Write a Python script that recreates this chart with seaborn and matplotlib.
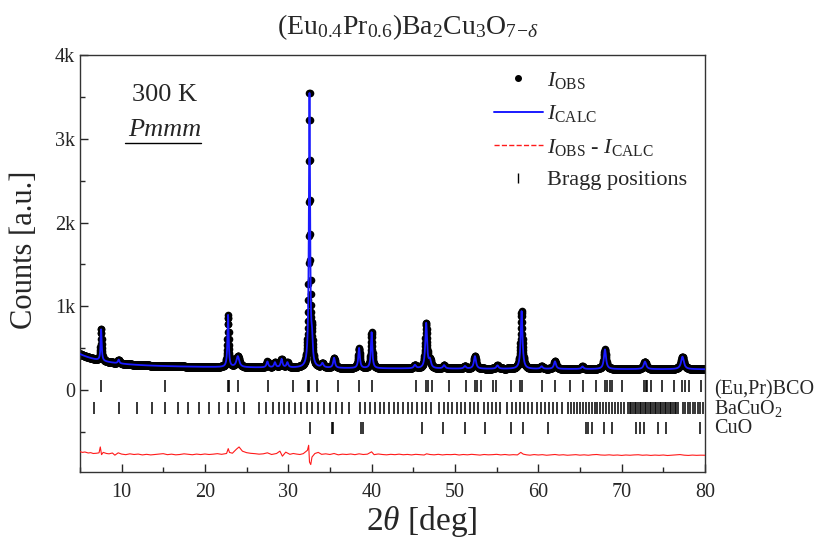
import numpy as np
import pandas as pd
import seaborn as sns
import matplotlib.pyplot as plt
from matplotlib.lines import Line2D
from matplotlib.ticker import MultipleLocator, FuncFormatter

# Peaks: position [deg], height above background [counts], FWHM [deg]
peak_pos = [7.55, 9.65, 22.78, 23.95, 27.5, 28.4, 29.2, 29.9, 32.55, 32.85, 34.1, 35.5,
            38.5, 40.0, 45.2, 46.55, 47.0, 48.7, 51.2, 52.4, 55.1, 58.0, 60.4, 62.0,
            65.3, 68.0, 72.8, 77.3]
peak_height = [380, 45, 620, 130, 70, 60, 100, 60, 3300, 250, 50, 120,
               240, 430, 40, 540, 90, 40, 30, 150, 40, 690, 30, 90,
               30, 235, 90, 150]
peak_fwhm = [0.15, 0.2, 0.17, 0.4, 0.25, 0.25, 0.25, 0.25, 0.17, 0.2, 0.3, 0.25,
             0.22, 0.2, 0.3, 0.25, 0.3, 0.3, 0.3, 0.3, 0.3, 0.25, 0.3, 0.3,
             0.3, 0.3, 0.35, 0.4]

# background level
bg_flat = 245
bg_fast, bg_fast_decay = 130, 3.0
bg_slow, bg_slow_decay = 55, 25.0

# Bragg positions
bragg_bco = [7.55, 15.23, 22.75, 22.95, 24.03, 27.55, 30.63, 32.4, 32.55, 33.43, 36.0,
             38.5, 40.03, 45.3, 46.5, 46.8, 47.2, 49.3, 51.3, 52.4, 52.7, 53.1, 54.6,
             54.9, 56.67, 57.75, 57.99, 60.39, 61.99, 63.75, 65.35, 66.95, 67.99, 68.3,
             68.55, 68.87, 70.07, 72.67, 72.9, 73.1, 73.47, 74.87, 76.27, 77.27, 77.6,
             78.07, 79.47]
bragg_bacuo2 = [6.75, 9.67, 11.83, 13.63, 15.27, 16.75, 18.03, 19.35, 20.55, 21.67,
                22.75, 23.75, 24.75, 26.55, 27.35, 28.15, 28.87, 29.55, 30.11, 30.79,
                31.51, 32.23, 32.91, 33.63, 34.31, 35.03, 35.79, 36.51, 37.31, 38.63,
                39.23, 39.83, 40.39, 40.95, 41.51, 42.07, 42.63, 43.19, 43.75, 44.31,
                44.87, 45.43, 45.99, 46.55, 47.11, 48.11, 48.63, 49.15, 49.67, 50.19,
                50.71, 51.23, 51.75, 52.23, 52.71, 53.43, 53.91, 54.39, 54.91, 55.4,
                56.3, 56.8, 57.3, 57.8, 58.3, 58.8, 59.3, 59.8, 60.3, 60.8, 61.3, 61.8,
                62.3, 62.8, 63.6, 63.95, 64.3, 64.65, 65.0, 65.35, 65.7, 66.05, 66.4,
                66.75, 67.1, 67.45, 67.8, 68.15, 68.5, 68.85, 69.2, 69.55, 69.9, 70.25,
                70.75, 70.95, 71.15, 71.35, 71.55, 71.75, 71.95, 72.15, 72.35, 72.55,
                72.75, 72.95, 73.15, 73.35, 73.55, 73.75, 73.95, 74.15, 74.35, 74.55,
                74.75, 74.95, 75.15, 75.35, 75.55, 75.75, 75.95, 76.15, 76.35, 76.55,
                76.8, 77.35, 77.65, 77.95, 78.25, 78.55, 78.85, 79.15, 79.45, 79.75]
bragg_cuo = [32.6, 35.2, 35.4, 38.7, 38.95, 46.1, 48.6, 51.2, 53.6, 56.67, 58.15, 61.19,
             65.67, 66.0, 66.5, 67.87, 68.87, 71.67, 72.15, 72.67, 74.39, 75.35, 79.35]
bragg_rows = [50, -215, -455]
phase_names = ["(Eu,Pr)BCO", "BaCuO$_2$", "CuO"]

# difference curve I_obs - I_calc (already offset), pairs of (2theta, counts)
diff_points = [
    (5.0, -735), (5.3, -745), (5.6, -740), (6.0, -752), (6.3, -748), (6.6, -758),
    (7.0, -755), (7.3, -750), (7.45, -680), (7.6, -772), (7.8, -745), (8.2, -758),
    (8.5, -762), (8.9, -752), (9.2, -778), (9.6, -750), (10.0, -765), (10.5, -772),
    (11.0, -762), (11.5, -770), (12.0, -765), (12.5, -775), (13.0, -768), (13.5, -775),
    (14.0, -770), (14.5, -764), (15.0, -760), (15.5, -772), (16.0, -766), (16.5, -774),
    (17.0, -770), (17.5, -762), (18.0, -768), (18.5, -773), (19.0, -765), (19.5, -771),
    (20.0, -764), (20.5, -770), (21.0, -766), (21.5, -760), (22.0, -768), (22.6, -758),
    (22.8, -700), (22.95, -745), (23.3, -755), (23.8, -705), (24.1, -680), (24.5, -730),
    (25.0, -748), (25.5, -756), (26.0, -760), (26.5, -766), (27.0, -762), (27.5, -750),
    (28.0, -770), (28.6, -758), (29.0, -730), (29.3, -790), (29.7, -742), (30.2, -768),
    (30.6, -758), (31.0, -765), (31.4, -770), (31.8, -760), (32.3, -720), (32.45, -660),
    (32.55, -860), (32.7, -890), (32.85, -800), (33.2, -758), (33.6, -745), (34.0, -768),
    (34.5, -762), (35.0, -770), (35.5, -758), (36.0, -774), (36.5, -766), (37.0, -770),
    (37.5, -764), (38.0, -772), (38.5, -762), (39.0, -770), (39.5, -766), (40.0, -738),
    (40.3, -772), (40.8, -764), (41.3, -770), (41.8, -774), (42.3, -768), (42.8, -772),
    (43.3, -766), (43.8, -773), (44.3, -769), (44.8, -775), (45.3, -768), (45.8, -772),
    (46.3, -776), (46.6, -762), (47.0, -770), (47.5, -774), (48.0, -768), (48.5, -775),
    (49.0, -770), (49.5, -772), (50.0, -768), (50.5, -776), (51.0, -770), (51.5, -774),
    (52.0, -768), (52.5, -772), (53.0, -777), (53.5, -770), (54.0, -774), (54.5, -772),
    (55.0, -768), (55.5, -775), (56.0, -770), (56.5, -776), (57.0, -772), (57.5, -775),
    (57.9, -745), (58.2, -766), (58.6, -774), (59.0, -778), (59.5, -771), (60.0, -776),
    (60.5, -772), (61.0, -779), (61.5, -774), (62.0, -770), (62.5, -777), (63.0, -773),
    (63.5, -779), (64.0, -775), (64.5, -772), (65.0, -778), (65.5, -774), (66.0, -779),
    (66.5, -773), (67.0, -770), (67.5, -776), (68.0, -778), (68.5, -774), (69.0, -779),
    (69.5, -776), (70.0, -781), (70.5, -776), (71.0, -779), (71.5, -775), (72.0, -773),
    (72.5, -779), (73.0, -776), (73.5, -781), (74.0, -777), (74.5, -780), (75.0, -776),
    (75.5, -782), (76.0, -778), (76.5, -774), (77.0, -771), (77.5, -778), (78.0, -781),
    (78.5, -777), (79.0, -780), (79.5, -778), (80.0, -779),
]

# calculated profile on the measurement grid
tt = np.arange(5.0, 80.0001, 0.02)
calc = (bg_flat + bg_fast * np.exp(-(tt - 5) / bg_fast_decay)
        + bg_slow * np.exp(-(tt - 5) / bg_slow_decay))
for p, h, w in zip(peak_pos, peak_height, peak_fwhm):
    calc = calc + h / (1 + ((tt - p) / (w / 2)) ** 2)
obs = calc
df = pd.DataFrame({"tt": tt, "obs": obs, "calc": calc})
df_diff = pd.DataFrame(diff_points, columns=["tt", "diff"])

sns.set_style("ticks")
plt.rcParams["font.family"] = ["Liberation Serif", "DejaVu Serif"]
plt.rcParams["mathtext.fontset"] = "custom"
plt.rcParams["mathtext.rm"] = "Liberation Serif"
plt.rcParams["mathtext.it"] = "Liberation Serif:italic"
plt.rcParams["mathtext.bf"] = "Liberation Serif:bold"

fig = plt.figure(figsize=(8.15, 5.42), dpi=100)
ax = fig.add_axes([0.098, 0.129, 0.767, 0.7695])

ax.plot(df["tt"], df["obs"], "o", color="black", ms=5.5, mew=0, zorder=2)
sns.lineplot(data=df, x="tt", y="calc", color="#1a1aff", lw=1.3, ax=ax, zorder=3)
sns.lineplot(data=df_diff, x="tt", y="diff", color="#ff1a1a", lw=0.8, ax=ax, zorder=3)

for pos, row in zip([bragg_bco, bragg_bacuo2, bragg_cuo], bragg_rows):
    ax.plot(pos, [row] * len(pos), "|", color="black", ms=9, mew=1.1, zorder=2)

trans = ax.get_yaxis_transform()
for name, row in zip(phase_names, [2, -225, -460]):
    ax.text(1.015, row, name, transform=trans, fontsize=14.5, va="center", ha="left")

ax.set_xlim(5, 80)
ax.set_ylim(-980, 4000)
ax.xaxis.set_major_locator(MultipleLocator(10))
ax.xaxis.set_minor_locator(MultipleLocator(5))
ax.yaxis.set_major_locator(MultipleLocator(1000))
ax.yaxis.set_minor_locator(MultipleLocator(500))
ax.yaxis.set_major_formatter(FuncFormatter(lambda v, p: "0" if v == 0 else f"{int(v / 1000)}k"))
ax.tick_params(which="both", direction="in", labelsize=14.5, width=1.0)
ax.tick_params(which="major", length=6)
ax.tick_params(which="minor", length=3.5)
ax.tick_params(axis="x", pad=8)
for s in ax.spines.values():
    s.set_linewidth(1.0)
    s.set_color("#333333")

ax.set_xlabel(r"2$\theta$ [deg]", fontsize=24)
ax.xaxis.set_label_coords(0.546, -0.076)
ax.set_ylabel("Counts [a.u.]", fontsize=22)
ax.yaxis.set_label_coords(-0.066, 0.532)
ax.set_title(r"(Eu$_{0.4}$Pr$_{0.6}$)Ba$_2$Cu$_3$O$_{7\!-\!\delta}$", fontsize=20, pad=15,
             x=0.525)

ax.text(0.136, 0.905, "300 K", transform=ax.transAxes, fontsize=19, ha="center", va="center")
ax.text(0.136, 0.82, "Pmmm", transform=ax.transAxes, fontsize=19, ha="center",
        va="center", style="italic")
ax.plot([0.072, 0.194], [0.79, 0.79], transform=ax.transAxes, color="black", lw=1.0)

handles = [
    Line2D([], [], marker="o", color="black", ls="none", ms=4),
    Line2D([], [], color="#1a1aff", lw=1.4),
    Line2D([], [], color="#ff1a1a", lw=1.0, ls="--"),
    Line2D([], [], marker="|", color="black", ls="none", ms=7, mew=1),
]
labels = [r"$I_{\rm OBS}$", r"$I_{\rm CALC}$", r"$I_{\rm OBS}$ - $I_{\rm CALC}$", "Bragg positions"]
ax.legend(handles, labels, loc="upper left", bbox_to_anchor=(0.648, 0.985), frameon=False,
          fontsize=16, handlelength=2.2, handletextpad=0.2, labelspacing=0.55, borderaxespad=0)

fig.savefig("out.png", dpi=100)
